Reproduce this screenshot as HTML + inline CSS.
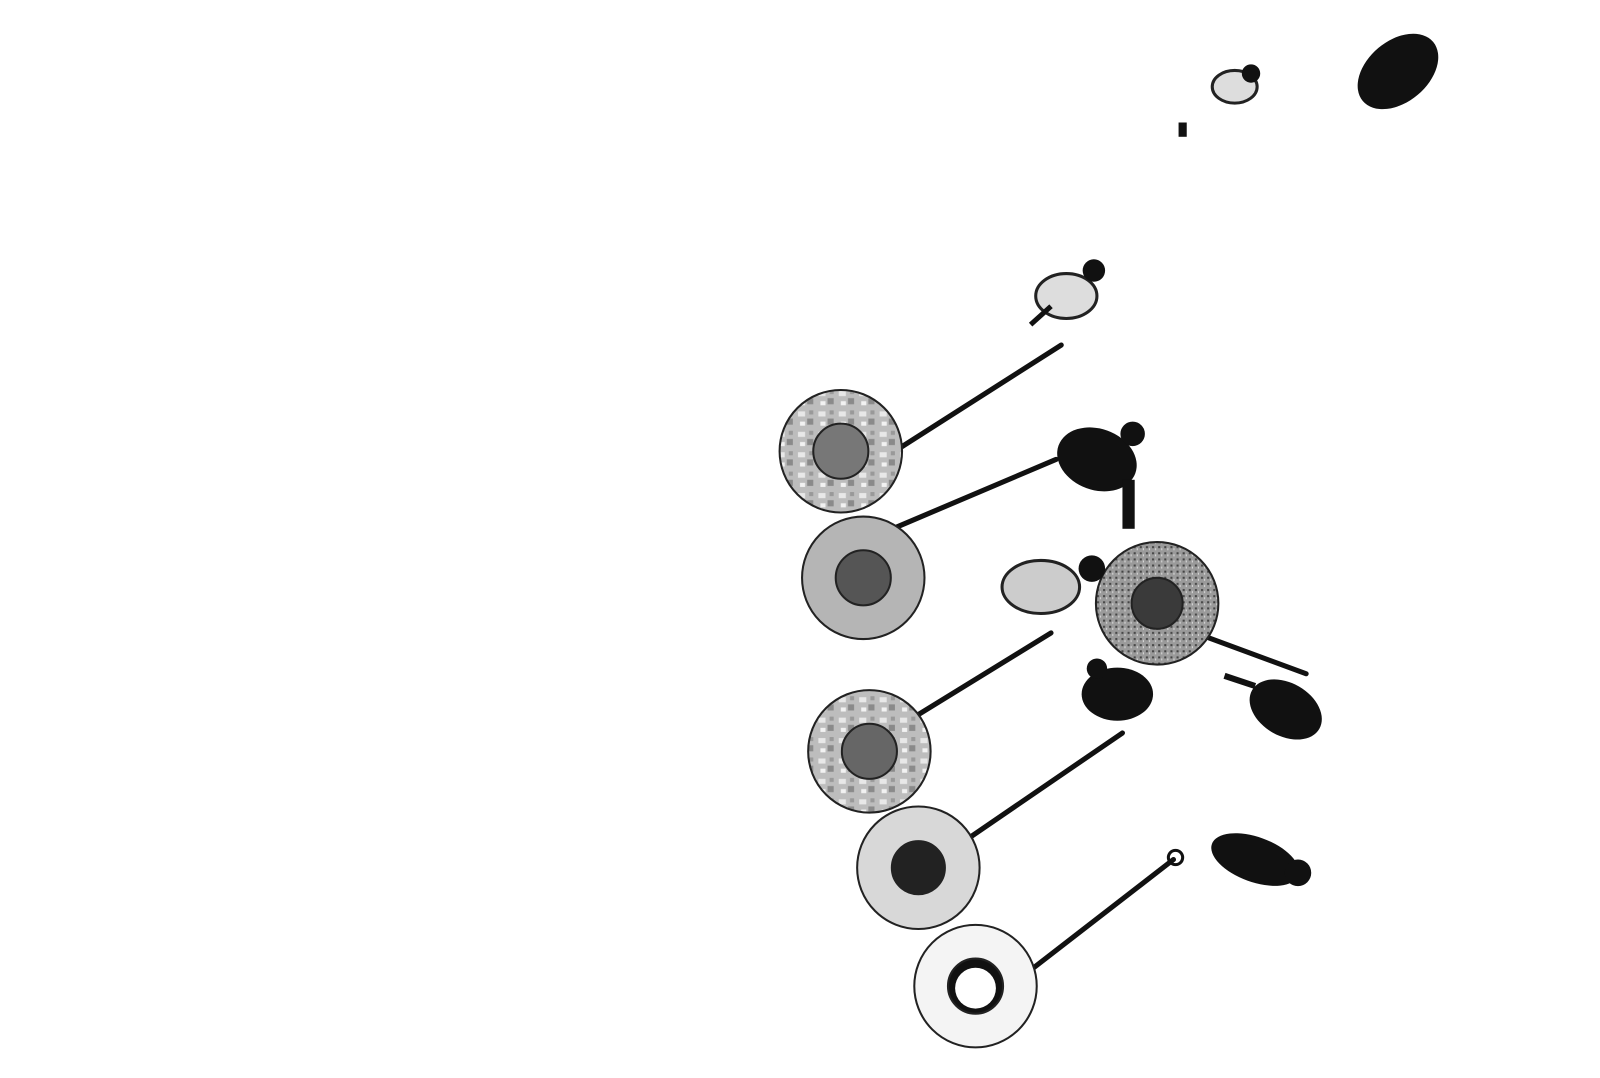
<!DOCTYPE html>
<html><head><meta charset="utf-8"><style>
html,body{margin:0;padding:0;background:#fff;}
svg{display:block}
</style></head><body>
<svg width="1600" height="1078" viewBox="0 0 1568 1056" preserveAspectRatio="none" xmlns="http://www.w3.org/2000/svg">
<defs>
<pattern id="camo" width="20" height="20" patternUnits="userSpaceOnUse">
<rect width="20" height="20" fill="#bdbdbd"/>
<rect x="2" y="3" width="7" height="5" fill="#e8e8e8"/>
<rect x="11" y="10" width="6" height="6" fill="#8a8a8a"/>
<rect x="4" y="13" width="5" height="4" fill="#f2f2f2"/>
<rect x="13" y="2" width="4" height="4" fill="#999"/>
</pattern>
<pattern id="speck" width="6" height="6" patternUnits="userSpaceOnUse">
<rect width="6" height="6" fill="#9a9a9a"/>
<rect x="1" y="1" width="2" height="2" fill="#444"/>
<rect x="4" y="3" width="1" height="2" fill="#ddd"/>
</pattern>
</defs>
<rect width="1568" height="1056" fill="#fff"/>
<g stroke="#111" stroke-width="5" stroke-linecap="round">
<line x1="880" y1="440" x2="1040" y2="338"/>
<line x1="870" y1="520" x2="1035" y2="450"/>
<line x1="900" y1="700" x2="1030" y2="620"/>
<line x1="948" y1="822" x2="1100" y2="718"/>
<line x1="1000" y1="958" x2="1150" y2="842"/>
<line x1="1185" y1="625" x2="1280" y2="660"/>
</g>
<!-- tubes -->
<g stroke="#222" stroke-width="2">
<circle cx="824" cy="442" r="60" fill="url(#camo)"/>
<circle cx="824" cy="442" r="27" fill="#777"/>
<circle cx="846" cy="566" r="60" fill="#b5b5b5"/>
<circle cx="846" cy="566" r="27" fill="#555"/>
<circle cx="1134" cy="591" r="60" fill="url(#speck)"/>
<circle cx="1134" cy="591" r="25" fill="#3a3a3a"/>
<circle cx="852" cy="736" r="60" fill="url(#camo)"/>
<circle cx="852" cy="736" r="27" fill="#666"/>
<circle cx="900" cy="850" r="60" fill="#d8d8d8"/>
<circle cx="900" cy="850" r="26" fill="#222"/>
<circle cx="956" cy="966" r="60" fill="#f4f4f4"/>
<circle cx="956" cy="966" r="27" fill="#111"/>
<circle cx="956" cy="968" r="20" fill="#fff" stroke="none"/>
</g>
<!-- people -->
<g fill="#111">
<ellipse cx="1370" cy="70" rx="45" ry="30" transform="rotate(-40 1370 70)"/>
<ellipse cx="1210" cy="85" rx="22" ry="16" fill="#ddd" stroke="#222" stroke-width="3"/>
<circle cx="1226" cy="72" r="9"/>
<rect x="1155" y="120" width="8" height="14"/>
<ellipse cx="1045" cy="290" rx="30" ry="22" fill="#ddd" stroke="#222" stroke-width="3"/>
<circle cx="1072" cy="265" r="11"/>
<line x1="1030" y1="300" x2="1010" y2="318" stroke="#111" stroke-width="5"/>
<ellipse cx="1075" cy="450" rx="40" ry="30" transform="rotate(20 1075 450)"/>
<circle cx="1110" cy="425" r="12"/>
<rect x="1100" y="470" width="12" height="48"/>
<ellipse cx="1020" cy="575" rx="38" ry="26" fill="#ccc" stroke="#222" stroke-width="3"/>
<circle cx="1070" cy="557" r="13"/>
<ellipse cx="1095" cy="680" rx="35" ry="26"/>
<circle cx="1075" cy="655" r="10"/>
<ellipse cx="1260" cy="695" rx="38" ry="26" transform="rotate(30 1260 695)"/>
<line x1="1200" y1="662" x2="1230" y2="672" stroke="#111" stroke-width="6"/>
<ellipse cx="1230" cy="842" rx="45" ry="22" transform="rotate(20 1230 842)"/>
<circle cx="1272" cy="855" r="13"/>
<circle cx="1152" cy="840" r="7" fill="none" stroke="#111" stroke-width="3"/>
</g>
</svg>
</body></html>
